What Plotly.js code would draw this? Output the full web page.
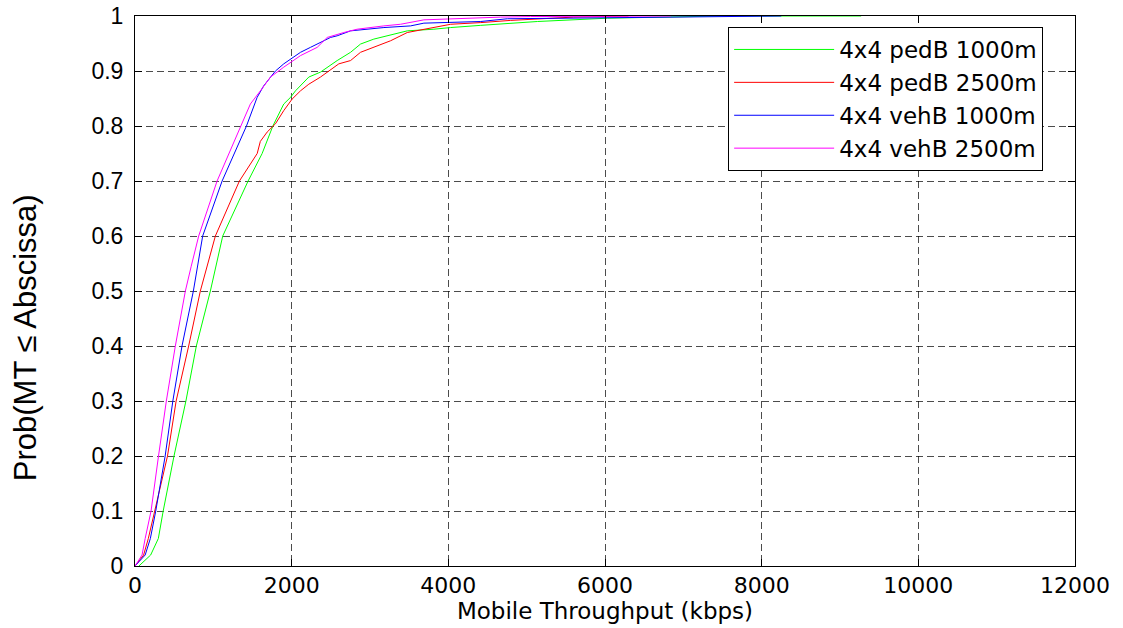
<!DOCTYPE html>
<html>
<head>
<meta charset="utf-8">
<script src="https://cdn.plot.ly/plotly-3.0.1.min.js"></script>
<style>html,body{margin:0;padding:0;background:#fff;}#chart{width:1123px;height:628px;}</style>
</head>
<body>
<div id="chart"></div>
<script>
// CDF points: throughput (kbps) and cumulative probability
const seriesNames = ["4x4 pedB 1000m", "4x4 pedB 2500m", "4x4 vehB 1000m", "4x4 vehB 2500m"];
const seriesColors = ["#00ff00", "#ff0000", "#0000ff", "#ff00ff"];

const pedB1000_x = [50, 200, 298, 360, 498, 650, 783, 962, 1120, 1444, 1623, 1760, 1899, 1985, 2049, 2113, 2219, 2368, 2581, 2752, 2879, 3049, 3305, 3476, 3816, 4030, 4413, 5137, 6031, 7480, 9270];
const pedB1000_y = [0, 0.02, 0.05, 0.1, 0.2, 0.3, 0.4, 0.5, 0.6, 0.7, 0.75, 0.8, 0.84, 0.852, 0.864, 0.873, 0.889, 0.898, 0.919, 0.934, 0.949, 0.958, 0.967, 0.973, 0.976, 0.979, 0.983, 0.99, 0.996, 1.0, 1.0];

const pedB2500_x = [0, 110, 170, 250, 415, 525, 685, 834, 1026, 1333, 1560, 1600, 1687, 1793, 1899, 2006, 2113, 2219, 2368, 2602, 2752, 2879, 3093, 3263, 3476, 3688, 3860, 4030, 4413, 4796, 5600, 6300];
const pedB2500_y = [0, 0.02, 0.05, 0.1, 0.2, 0.3, 0.4, 0.5, 0.6, 0.7, 0.75, 0.772, 0.789, 0.804, 0.828, 0.849, 0.864, 0.876, 0.889, 0.913, 0.919, 0.934, 0.946, 0.955, 0.97, 0.976, 0.981, 0.985, 0.988, 0.992, 0.998, 1.0];

const vehB1000_x = [0, 130, 196, 265, 385, 483, 600, 745, 864, 1112, 1423, 1495, 1559, 1643, 1793, 1899, 2113, 2240, 2496, 2581, 2752, 3177, 3518, 3688, 3944, 4413, 4754, 7390, 8250];
const vehB1000_y = [0, 0.02, 0.05, 0.1, 0.2, 0.3, 0.4, 0.5, 0.6, 0.7, 0.8, 0.828, 0.852, 0.873, 0.9, 0.913, 0.934, 0.943, 0.961, 0.964, 0.973, 0.979, 0.982, 0.987, 0.988, 0.99, 0.995, 0.998, 1.0];

const vehB2500_x = [0, 90, 130, 205, 300, 400, 515, 643, 716, 813, 1048, 1346, 1473, 1601, 1729, 1899, 2113, 2326, 2454, 2666, 2837, 3177, 3390, 3688, 4030, 4669, 5050, 6840];
const vehB2500_y = [0, 0.02, 0.05, 0.1, 0.2, 0.3, 0.4, 0.5, 0.544, 0.6, 0.7, 0.8, 0.84, 0.864, 0.889, 0.907, 0.928, 0.943, 0.961, 0.97, 0.976, 0.982, 0.985, 0.993, 0.995, 0.998, 0.999, 1.0];

const xTickVals = [0, 2000, 4000, 6000, 8000, 10000, 12000];
const yTickVals = [0, 0.1, 0.2, 0.3, 0.4, 0.5, 0.6, 0.7, 0.8, 0.9, 1];
const yTitle = "Prob(MT \u2264 Abscissa)";
const xTitle = "Mobile Throughput (kbps)";

const xs = [pedB1000_x, pedB2500_x, vehB1000_x, vehB2500_x];
const ys = [pedB1000_y, pedB2500_y, vehB1000_y, vehB2500_y];

const traces = seriesNames.map((n, i) => ({
  type: "scatter", mode: "lines", name: n,
  x: xs[i], y: ys[i],
  line: {color: seriesColors[i], width: 1}
}));

const axisCommon = {
  showline: true, linecolor: "#000", linewidth: 1, mirror: "allticks",
  ticks: "inside", ticklen: 7, tickcolor: "#000",
  showgrid: true, gridcolor: "rgba(0,0,0,0.7)", griddash: "7px,4px", gridwidth: 1,
  zeroline: false
};

const wide = "DejaVu Sans, sans-serif";
const arial = "Liberation Sans, Arial, sans-serif";

const layout = {
  width: 1123, height: 628,
  margin: {l: 135, r: 48, t: 16, b: 62},
  paper_bgcolor: "#fff", plot_bgcolor: "#fff",
  font: {family: arial, color: "#000"},
  xaxis: Object.assign({}, axisCommon, {
    range: [0, 12000], tickvals: xTickVals, tickformat: "d",
    tickfont: {size: 22, family: wide},
    title: {text: xTitle, font: {size: 23, family: wide}, standoff: 4}
  }),
  yaxis: Object.assign({}, axisCommon, {
    range: [0, 1], tickvals: yTickVals,
    tickfont: {size: 23, family: arial},
    ticklabelstandoff: 6
  }),
  annotations: [{
    text: yTitle, textangle: -90, showarrow: false,
    xref: "paper", yref: "paper", x: -0.1165, y: 0.415,
    xanchor: "center", yanchor: "middle",
    font: {size: 31, family: arial, color: "#000"}
  }],
  showlegend: true,
  legend: {
    x: 0.631, y: 0.98, xanchor: "left", yanchor: "top",
    bgcolor: "#fff", bordercolor: "#000", borderwidth: 1,
    font: {size: 23, family: wide}, itemwidth: 100
  }
};

Plotly.newPlot("chart", traces, layout, {displayModeBar: false, staticPlot: true});
</script>
</body>
</html>
